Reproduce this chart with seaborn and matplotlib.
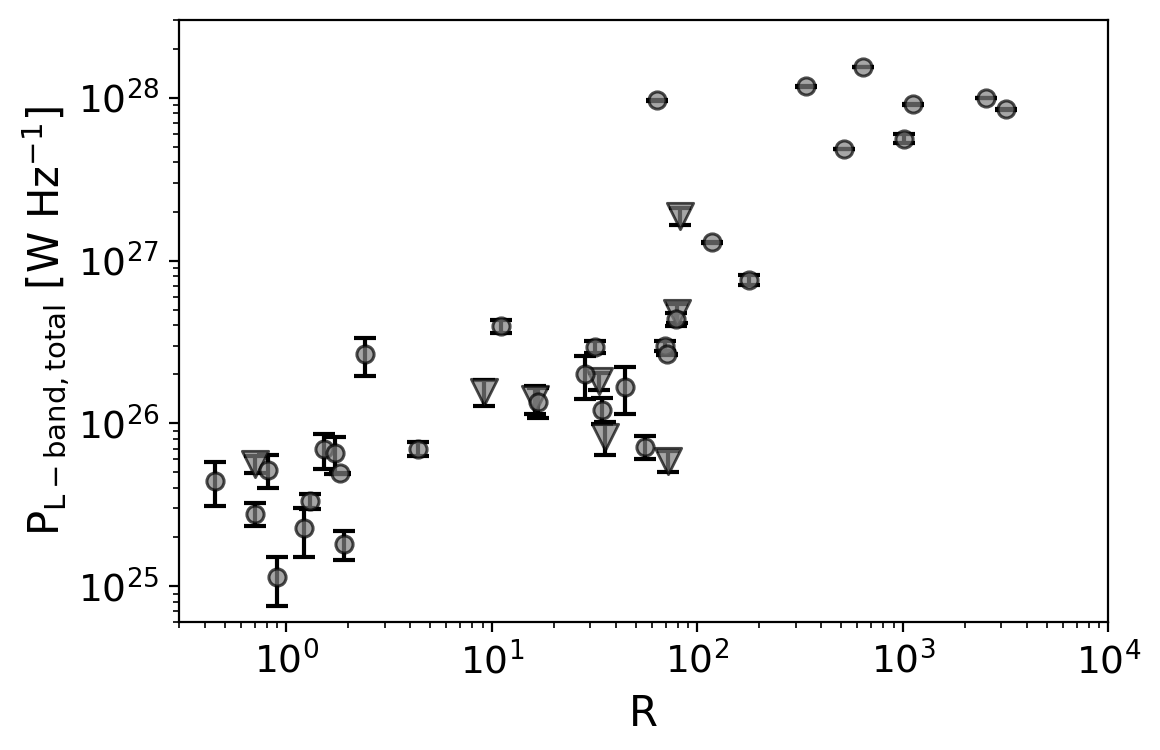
import numpy as np
import pandas as pd
import matplotlib
matplotlib.use("Agg")
import matplotlib.pyplot as plt
import seaborn as sns

# ---- data ----
circ_R = [0.451, 0.811, 0.707, 0.901, 1.214, 1.308, 1.519, 1.718, 1.817, 1.915,
          2.423, 4.35, 11.12, 16.71, 31.89, 28.5, 44.6, 34.4, 55.4, 69.3,
          71.2, 78.2, 63.2, 339, 637.6, 1116, 2540, 3189, 515, 1009, 118.3, 179]
circ_P = [4.43e25, 5.17e25, 2.79e25, 1.135e25, 2.27e25, 3.34e25, 6.93e25, 6.55e25, 4.93e25, 1.81e25,
          2.65e26, 6.96e25, 3.97e26, 1.357e26, 2.95e26, 2.0e26, 1.68e26, 1.21e26, 7.19e25, 2.99e26,
          2.66e26, 4.35e26, 9.62e27, 1.173e28, 1.54e28, 9.1e27, 9.94e27, 8.47e27, 4.84e27, 5.6e27,
          1.294e27, 7.57e26]
circ_err = [1.33e25, 1.19e25, 0.46e25, 0.377e25, 0.76e25, 0.355e25, 1.67e25, 1.65e25, 0.05e25, 0.365e25,
            0.70e26, 0.68e25, 0.365e26, 0.28e26, 0.255e26, 0.585e26, 0.545e26, 0.215e26, 1.16e25, 0.21e26,
            0.02e26, 0.41e26, 0.04e27, 0.05e27, 0.06e27, 0.04e27, 0.04e27, 0.04e27, 0.02e27, 0.345e27,
            0.01e27, 0.53e26]

tri_R = [0.707, 9.12, 16.16, 33.1, 35.3, 71.9, 79.6, 82.6]
tri_P = [5.63e25, 1.556e26, 1.41e26, 1.82e26, 8.3e25, 5.89e25, 4.74e26, 1.875e27]
tri_err = [0.70e25, 0.28e26, 0.275e26, 0.22e26, 1.91e25, 0.89e25, 0.63e26, 0.228e27]

xlim = (0.3, 1e4)
ylim = (6e24, 3e28)

circ = pd.DataFrame({"R": circ_R, "P": circ_P, "err": circ_err})
tri = pd.DataFrame({"R": tri_R, "P": tri_P, "err": tri_err})

fig = plt.figure(figsize=(5.8, 3.75), dpi=200)
ax = fig.add_axes([0.1543, 0.1703, 0.9556 - 0.1543, 0.9733 - 0.1703])
ax.set_xscale("log")
ax.set_yscale("log")

for df in (tri, circ):
    ax.errorbar(df["R"], df["P"], yerr=df["err"], fmt="none", ecolor="k",
                elinewidth=1.5, capsize=4, capthick=1.5, zorder=1)

sns.scatterplot(data=tri, x="R", y="P", marker="v", s=90, color="gray",
                edgecolor="k", linewidth=1.0, alpha=0.7, ax=ax, zorder=2)
sns.scatterplot(data=circ, x="R", y="P", marker="o", s=38, color="gray",
                edgecolor="k", linewidth=1.1, alpha=0.7, ax=ax, zorder=3)

ax.set_xlim(*xlim)
ax.set_ylim(*ylim)
ax.tick_params(axis="both", which="major", labelsize=13.5)
ax.set_xlabel("R", fontsize=15)
ax.set_ylabel(r"$\mathrm{P_{L-band, total}}$ [W Hz$^{-1}$]", fontsize=15, labelpad=2)

fig.savefig("out.png", dpi=200)
